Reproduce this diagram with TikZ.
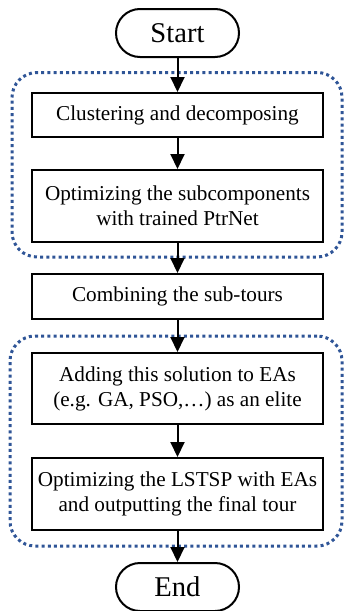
\documentclass[tikz,border=0pt]{standalone}
\usepackage{fontspec}
\setmainfont{Liberation Serif}
\usepackage {tikz}
\usetikzlibrary{arrows.meta}
\definecolor{groupblue}{RGB}{47,85,151}

\begin{document}
\begin{tikzpicture}[x=0.5pt,y=0.5pt,
  every node/.style={font=\fontsize{10.6}{12.5}\selectfont, align=center},
  stepbox/.style={draw, line width=1pt, minimum width=145.5pt, inner sep=0pt},
  terminal/.style={draw, line width=1pt, rounded corners=12pt, minimum width=61.5pt,
    minimum height=24pt, inner sep=0pt, font=\fontsize{14.3}{16}\selectfont},
  group/.style={draw=groupblue, line width=1.5pt, dash pattern=on 1.5pt off 1.6pt,
    rounded corners=12.5pt, minimum width=165pt, inner sep=0pt},
  flow/.style={line width=1pt, -{Triangle[length=7.5pt,width=7pt]}}]
\useasboundingbox (0,0) rectangle (347,-611);
% dotted groups
\node[group, minimum height=92.25pt] (grpA) at (177,-164.75) {};
\node[group, minimum width=166pt, minimum height=105pt] (grpB) at (176,-441) {};
% steps
\path (177.5,-33) node[terminal] (start) {Start}
(177.5,-115) node[stepbox, minimum height=22pt] (clus) {Clustering and decomposing}
(177.5,-206) node[stepbox, minimum height=36pt] (optsub) {Optimizing the subcomponents\\with trained PtrNet}
(177.5,-296.5) node[stepbox, minimum height=22.5pt] (comb) {Combining the sub-tours}
(177.5,-388.5) node[stepbox, minimum height=35.5pt] (elite) {Adding this solution to EAs\\(e.g. GA, PSO,\ldots) as an elite}
(177.5,-494) node[stepbox, minimum height=36pt] (optall) {Optimizing the LSTSP with EAs\\and outputting the final tour}
(177.5,-587) node[terminal] (finish) {End};
\draw[flow] (start) -- (clus);
\draw[flow] (clus) -- (optsub);
\draw[flow] (optsub) -- (comb);
\draw[flow] (comb) -- (elite);
\draw[flow] (elite) -- (optall);
\draw[flow] (optall) -- (finish);
\end{tikzpicture}
\end{document}
